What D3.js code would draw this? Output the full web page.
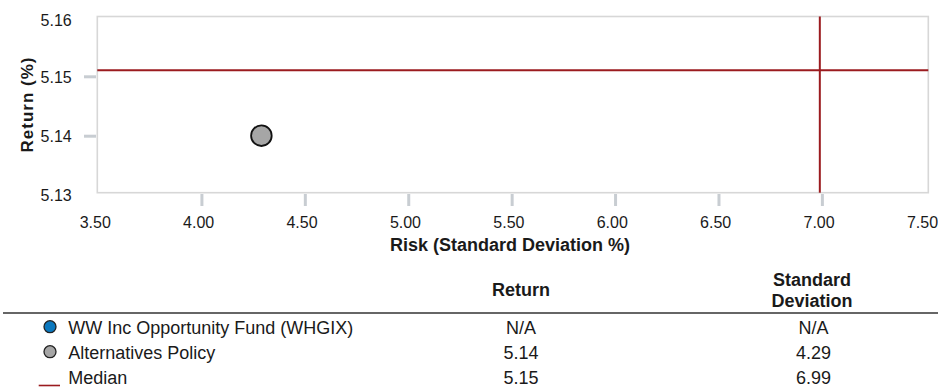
<!DOCTYPE html>
<html>
<head>
<meta charset="utf-8">
<script src="https://cdn.jsdelivr.net/npm/d3@7/dist/d3.min.js"></script>
<style>
  html, body { margin: 0; padding: 0; background: #fff; }
  svg { display: block; font-family: "Liberation Sans", Arial, sans-serif; }
</style>
</head>
<body>
<svg id="chart" width="938" height="388"></svg>
<script>
// Risk / return values
const seriesNames = ["WW Inc Opportunity Fund (WHGIX)", "Alternatives Policy", "Median"];
const seriesReturn = [null, 5.14, 5.151];
const seriesRisk = [null, 4.29, 6.99];
const seriesKind = ["dot", "dot", "line"];
const seriesColor = ["#0b78be", "#a6a6a6", "#9b1b1f"];

// Axis ticks
const xTicks = [3.5, 4.0, 4.5, 5.0, 5.5, 6.0, 6.5, 7.0, 7.5];
const yTicks = [5.13, 5.14, 5.15, 5.16];
const xTitle = "Risk (Standard Deviation %)";
const yTitle = "Return (%)";
const tableHeads = [["Return"], ["Standard", "Deviation"]];

const svg = d3.select("#chart");
const W = 938;

const box = { left: 97.3, right: 928.3, top: 16.5, bottom: 192.7 };
const x = d3.scaleLinear().domain([3.5, 7.5]).range([98, 925.3]);
const y = d3.scaleLinear().domain([5.13, 5.16]).range([195.1, 16.9]);
const fmt = d3.format(".2f");
const tickGrey = "#c8cdd2";
const textCol = "#1a1a1a";

// plot frame
svg.append("rect")
  .attr("x", box.left).attr("y", box.top)
  .attr("width", box.right - box.left).attr("height", box.bottom - box.top)
  .attr("fill", "none").attr("stroke", "#d7d7d7").attr("stroke-width", 1.6);

// x axis
const gx = svg.append("g")
  .attr("transform", `translate(0,${box.bottom + 1.3})`)
  .call(d3.axisBottom(x).tickValues(xTicks).tickFormat(fmt).tickSize(12).tickPadding(0));
gx.select(".domain").remove();
gx.selectAll(".tick line")
  .attr("stroke", tickGrey).attr("stroke-width", 3)
  .attr("display", d => (d === x.domain()[0] || d === x.domain()[1]) ? "none" : null);
gx.selectAll(".tick text")
  .attr("y", 34).attr("dy", null).attr("dx", -3.3)
  .attr("fill", textCol).style("font-size", "16px");

// y axis
const gy = svg.append("g")
  .attr("transform", `translate(${box.left - 1.3},0)`)
  .call(d3.axisLeft(y).tickValues(yTicks).tickFormat(fmt).tickSize(12).tickPadding(0));
gy.select(".domain").remove();
gy.selectAll(".tick line")
  .attr("stroke", tickGrey).attr("stroke-width", 3)
  .attr("display", d => (d === y.domain()[0] || d === y.domain()[1]) ? "none" : null);
gy.selectAll(".tick text")
  .attr("x", -24.3).attr("dy", "0.35em")
  .attr("fill", textCol).style("font-size", "16px")
  .attr("transform", d => {
    const yy = y(d);
    const clamped = Math.min(Math.max(yy, box.top + 3), box.bottom + 1.3);
    return `translate(0,${clamped - yy + 0.6})`;
  });

// axis titles
svg.append("text")
  .attr("x", 510).attr("y", 251)
  .attr("text-anchor", "middle")
  .attr("fill", textCol).style("font-size", "18px").style("font-weight", "bold")
  .text(xTitle);
svg.append("text")
  .attr("transform", `translate(33,104.5) rotate(-90)`)
  .attr("text-anchor", "middle")
  .attr("fill", textCol).style("font-size", "17px").style("font-weight", "bold")
  .style("letter-spacing", "1px")
  .text(yTitle);

// median cross lines
seriesNames.forEach((n, i) => {
  if (seriesKind[i] !== "line" || seriesReturn[i] == null) return;
  svg.append("line")
    .attr("x1", box.left).attr("x2", box.right)
    .attr("y1", y(seriesReturn[i])).attr("y2", y(seriesReturn[i]))
    .attr("stroke", seriesColor[i]).attr("stroke-width", 2);
  svg.append("line")
    .attr("x1", x(seriesRisk[i])).attr("x2", x(seriesRisk[i]))
    .attr("y1", box.top).attr("y2", box.bottom)
    .attr("stroke", seriesColor[i]).attr("stroke-width", 2);
});

// points
seriesNames.forEach((n, i) => {
  if (seriesKind[i] !== "dot" || seriesReturn[i] == null) return;
  svg.append("circle")
    .attr("cx", x(seriesRisk[i])).attr("cy", y(seriesReturn[i]))
    .attr("r", 10.3)
    .attr("fill", seriesColor[i]).attr("stroke", "#111").attr("stroke-width", 1.8);
});

// table
const colReturn = 521, colRisk = 812;
const head = svg.append("g").attr("fill", textCol)
  .style("font-size", "18px").style("font-weight", "bold").attr("text-anchor", "middle");
head.append("text").attr("x", colReturn).attr("y", 296).text(tableHeads[0][0]);
head.append("text").attr("x", colRisk).attr("y", 285.7).text(tableHeads[1][0]);
head.append("text").attr("x", colRisk).attr("y", 306.7).text(tableHeads[1][1]);

svg.append("line")
  .attr("x1", 3).attr("x2", W).attr("y1", 313).attr("y2", 313)
  .attr("stroke", "#333").attr("stroke-width", 1.5);

const rowY = d3.scaleLinear().domain([0, 2]).range([334, 384]);
seriesNames.forEach((n, i) => {
  const by = rowY(i);
  if (seriesKind[i] === "dot") {
    svg.append("circle")
      .attr("cx", 50).attr("cy", by - 7.3).attr("r", 6)
      .attr("fill", seriesColor[i]).attr("stroke", "#222").attr("stroke-width", 1.3);
  } else {
    svg.append("line")
      .attr("x1", 38.7).attr("x2", 60).attr("y1", by + 1.5).attr("y2", by + 1.5)
      .attr("stroke", seriesColor[i]).attr("stroke-width", 1.6);
  }
  const t = svg.append("g").attr("fill", textCol).style("font-size", "18px");
  t.append("text").attr("x", 68.3).attr("y", by).text(n);
  t.append("text").attr("x", colReturn).attr("y", by).attr("text-anchor", "middle")
    .text(seriesReturn[i] == null ? "N/A" : fmt(seriesReturn[i]));
  t.append("text").attr("x", colRisk + 1.5).attr("y", by).attr("text-anchor", "middle")
    .text(seriesRisk[i] == null ? "N/A" : fmt(seriesRisk[i]));
});
</script>
</body>
</html>
